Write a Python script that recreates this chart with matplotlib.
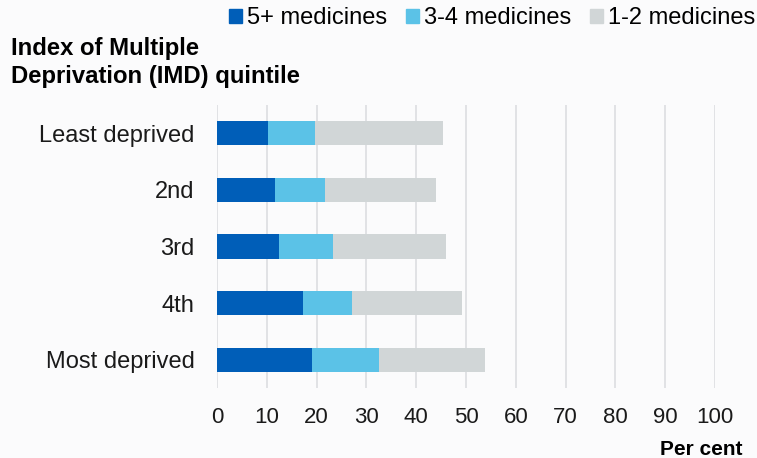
import matplotlib
matplotlib.use("Agg")
import matplotlib.pyplot as plt
from matplotlib.patches import Patch

plt.rcParams["font.family"] = ["Liberation Sans", "DejaVu Sans"]

quintiles = ["Least deprived", "2nd", "3rd", "4th", "Most deprived"]
five_plus = [10.3, 11.7, 12.5, 17.3, 19.1]
three_four = [9.4, 10.0, 10.8, 9.8, 13.4]
one_two = [25.6, 22.2, 22.7, 22.1, 21.4]

series_names = ["5+ medicines", "3-4 medicines", "1-2 medicines"]
colours = ["#005EB8", "#5BC2E7", "#D1D6D7"]
bg = "#FBFBFC"
W, H = 757, 458

fig = plt.figure(figsize=(W / 100, H / 100), dpi=100, facecolor=bg)
ax = fig.add_axes([217 / W, 1 - 388 / H, (715 - 217) / W, 283 / H])
ax.set_facecolor(bg)

ypos = list(range(len(quintiles)))
left = [0] * len(quintiles)
for vals, col in zip([five_plus, three_four, one_two], colours):
    ax.barh(ypos, vals, left=left, height=0.43, color=col, zorder=3)
    left = [a + b for a, b in zip(left, vals)]

ax.set_xlim(0, 100)
ax.set_ylim(4.5, -0.5)
ax.set_xticks(range(0, 101, 10))
ax.set_yticks(ypos)
ax.set_yticklabels(quintiles)
ax.tick_params(axis="x", length=0, labelsize=16, colors="#1a1a1a", pad=14)
ax.tick_params(axis="y", length=0, labelsize=17, colors="#1a1a1a", pad=16)
ax.grid(axis="x", color="#DCDDE1", linewidth=1.2, zorder=0)
for s in ax.spines.values():
    s.set_visible(False)

# two-line title above the category labels
fig.text(11 / W, 1 - 55 / H, "Index of Multiple", fontsize=17.2,
         fontweight="bold", va="baseline", ha="left")
fig.text(11 / W, 1 - 83.5 / H, "Deprivation (IMD) quintile", fontsize=17.2,
         fontweight="bold", va="baseline", ha="left")
fig.text(743 / W, 1 - 455 / H, "Per cent", fontsize=15, fontweight="bold",
         ha="right", va="baseline")

handles = [Patch(color=c) for c in colours]
fig.legend(handles, series_names, loc="upper right", bbox_to_anchor=(755 / W, 1 - 7 / H),
           ncol=3, frameon=False, fontsize=17, handlelength=0.53, handleheight=0.53,
           handletextpad=0.22, columnspacing=0.8, borderpad=0, borderaxespad=0)

fig.savefig("out.png", dpi=100, facecolor=bg)
